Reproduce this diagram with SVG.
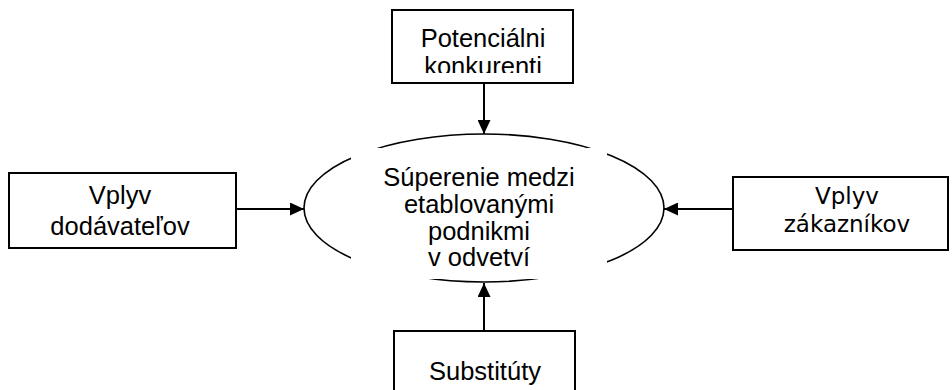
<svg xmlns="http://www.w3.org/2000/svg" width="952" height="390" viewBox="0 0 952 390">
<style>
.box{fill:#fff;stroke:#000;stroke-width:2}
.t{font-family:"Liberation Sans",Arial,sans-serif;font-size:25.5px;fill:#000;text-anchor:middle}
.td{font-family:"DejaVu Sans",Verdana,sans-serif;font-size:23px;fill:#000;text-anchor:middle}
.ln{stroke:#000;stroke-width:2;fill:none}
</style>
<defs>
<marker id="ah" viewBox="0 0 14 13" refX="14" refY="6.5" markerWidth="14" markerHeight="13" markerUnits="userSpaceOnUse" orient="auto">
<path d="M0,0 L14,6.5 L0,13 Z" fill="#000"/>
</marker>
<clipPath id="cTop"><rect x="392" y="10" width="181" height="63"/></clipPath>
</defs>
<rect width="952" height="390" fill="#fff"/>
<g id="connectors">
<line class="ln" x1="484" y1="83" x2="484" y2="134" marker-end="url(#ah)"/>
<line class="ln" x1="236" y1="209" x2="304" y2="209" marker-end="url(#ah)"/>
<line class="ln" x1="733" y1="209" x2="664" y2="209" marker-end="url(#ah)"/>
<line class="ln" x1="484" y1="331" x2="484" y2="283" marker-end="url(#ah)"/>
</g>
<g id="center">
<ellipse cx="484" cy="208" rx="180" ry="74" fill="none" stroke="#000" stroke-width="1.6"/>
<rect x="351" y="148" width="256" height="131" fill="#fff"/>
<text class="t" x="479" y="186">Súperenie medzi</text>
<text class="t" x="479" y="213">etablovanými</text>
<text class="t" x="479" y="240">podnikmi</text>
<text class="t" x="479" y="266">v odvetví</text>
</g>
<g id="top">
<rect class="box" x="392" y="10" width="181" height="73"/>
<g clip-path="url(#cTop)">
<text class="t" x="483" y="47">Potenciálni</text>
<text class="t" x="483" y="75">konkurenti</text>
</g>
</g>
<g id="left">
<rect class="box" x="9" y="173" width="227" height="75"/>
<text class="t" x="120" y="204">Vplyv</text>
<text class="t" x="120" y="235">dodávateľov</text>
</g>
<g id="right">
<rect class="box" x="733" y="177" width="215" height="73"/>
<text class="td" x="847" y="204">Vplyv</text>
<text class="td" x="847" y="232">zákazníkov</text>
</g>
<g id="bottom">
<rect class="box" x="394" y="331" width="181" height="70"/>
<text class="t" x="485" y="380">Substitúty</text>
</g>
</svg>
